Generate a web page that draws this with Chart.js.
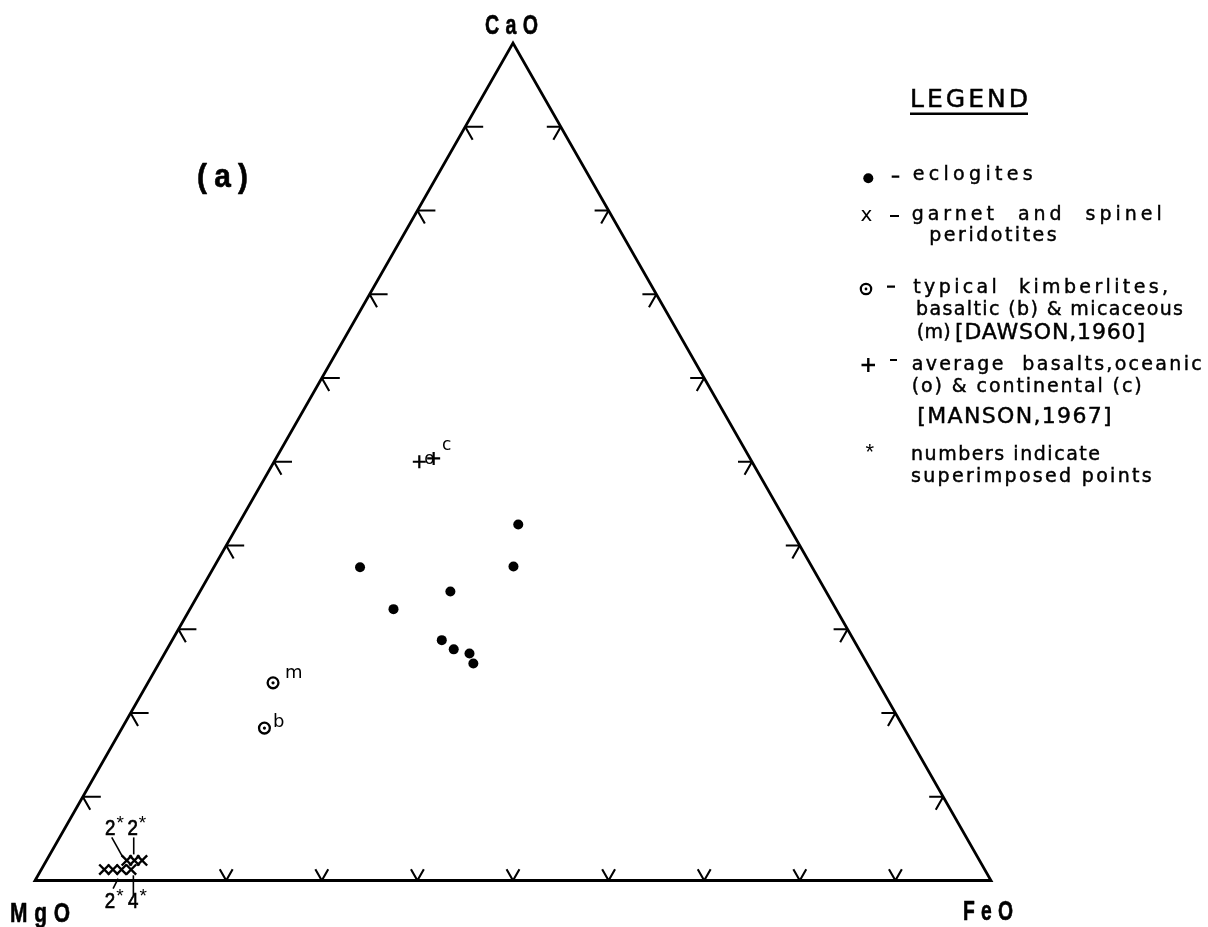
<!DOCTYPE html>
<html>
<head>
<meta charset="utf-8">
<title>CaO – MgO – FeO</title>
<script src="https://cdn.jsdelivr.net/npm/chart.js@4.4.1/dist/chart.umd.min.js"></script>
<style>
  html, body { margin: 0; padding: 0; background: #fff; }
  #wrap { width: 1208px; height: 927px; position: relative; }
</style>
</head>
<body>
<div id="wrap"><canvas id="chart" width="1208" height="927"></canvas></div>
<script>
// ---- Compositions, wt % (CaO + MgO + FeO = 100) ----
const eclogiteCaO = [42.5, 37.4, 37.5, 34.5, 32.4, 28.7, 27.6, 27.1, 25.9];
const eclogiteMgO = [28.2, 47.3, 31.2, 39.3, 46.3, 43.1, 42.4, 41.0, 41.2];
const eclogiteFeO = [29.3, 15.3, 31.3, 26.2, 21.3, 28.2, 30.0, 31.9, 32.9];

// garnet and spinel peridotites; stack = number of superimposed analyses
const peridotiteCaO = [2.4, 2.4, 2.4, 1.3, 1.3, 1.3, 1.3];
const peridotiteMgO = [89.2, 88.4, 87.6, 92.1, 91.2, 90.3, 89.3];
const peridotiteFeO = [8.4, 9.2, 10.0, 6.6, 7.5, 8.4, 9.4];
const peridotiteStack = [2, 2, 1, 1, 1, 2, 4];

// typical kimberlites (Dawson, 1960)
const kimberliteTags = ['b', 'm'];
const kimberliteCaO = [18.2, 23.6];
const kimberliteMgO = [66.9, 63.3];
const kimberliteFeO = [14.9, 13.1];

// average basalts (Manson, 1967)
const basaltTags = ['o', 'c'];
const basaltCaO = [50.0, 50.4];
const basaltMgO = [34.8, 33.1];
const basaltFeO = [15.2, 16.5];

// ternary grid ticks, % along each side
const sideTicks = [10, 20, 30, 40, 50, 60, 70, 80, 90];
const baseTicks = [20, 30, 40, 50, 60, 70, 80, 90];

// ---- ternary -> cartesian (x runs MgO->FeO, y is CaO height) ----
function toXY(cao, mgo, feo) {
  const s = cao + mgo + feo;
  const c = cao / s * 100, f = feo / s * 100;
  return { x: f + c / 2, y: c };
}
const series = (ca, mg, fe) => ca.map((c, i) => toXY(c, mg[i], fe[i]));

const FONT = '"Liberation Sans", Arial, Helvetica, sans-serif';
const LFONT = '"DejaVu Sans", "Liberation Sans", sans-serif';

// text stretched with letter spacing to run over a given width
function spreadText(ctx, text, left, baseline, width, font, weight) {
  ctx.save();
  ctx.font = font;
  ctx.letterSpacing = '0px';
  const w0 = ctx.measureText(text).width;
  const gap = text.length > 1 ? (width - w0) / (text.length - 1) : 0;
  ctx.letterSpacing = gap + 'px';
  ctx.textAlign = 'left';
  ctx.textBaseline = 'alphabetic';
  ctx.fillText(text, left, baseline);
  if (weight) { ctx.lineWidth = weight; ctx.strokeText(text, left, baseline); }
  ctx.restore();
}
// condensed heavy text: fixed spacing, squeezed horizontally into a width
function squeezeText(ctx, text, left, baseline, width, font, gap, weight) {
  ctx.save();
  ctx.font = font;
  ctx.letterSpacing = '0px';
  const w = ctx.measureText(text).width + gap * (text.length - 1);
  ctx.letterSpacing = gap + 'px';
  ctx.translate(left, baseline);
  ctx.scale(width / w, 1);
  ctx.textAlign = 'left';
  ctx.textBaseline = 'alphabetic';
  ctx.fillText(text, 0, 0);
  if (weight) { ctx.lineWidth = weight; ctx.lineJoin = 'round'; ctx.strokeText(text, 0, 0); }
  ctx.restore();
}

// label / leader placement for superimposed peridotite points (pixel offsets from the point)
const stackNotes = {
  0: { label: [-21.7, -25], leader: [[-15, -23], [-4.4, -4]] },
  1: { label: [-7, -25], leader: [[-0.7, -23], [-0.7, -6]] },
  5: { label: [-16.7, 38.7], leader: [[-8.4, 19], [-3.4, 9]] },
  6: { label: [-3, 38.7], leader: [[2.3, 5.7], [2.3, 25.7]] }
};
const kimberliteTagOffset = { b: [8.5, -1.5], m: [12, -4.7] };
const basaltTagOffset = { o: [5, 2.5], c: [8.4, -8.3] };

const ternaryDecor = {
  id: 'ternaryDecor',
  afterDatasetsDraw(chart) {
    const ctx = chart.ctx;
    const sx = chart.scales.x, sy = chart.scales.y;
    const px = (cao, mgo, feo) => {
      const p = toXY(cao, mgo, feo);
      return { x: sx.getPixelForValue(p.x), y: sy.getPixelForValue(p.y) };
    };
    const A = px(100, 0, 0), M = px(0, 100, 0), F = px(0, 0, 100);
    const unit = (a, b) => {
      const dx = b.x - a.x, dy = b.y - a.y, l = Math.hypot(dx, dy);
      return { x: dx / l, y: dy / l };
    };
    ctx.save();
    ctx.strokeStyle = '#000';
    ctx.fillStyle = '#000';
    ctx.lineWidth = 2.1;
    ctx.lineCap = 'butt';

    // grid ticks: two short arms along the ternary grid directions
    const arm = (p, d, len) => { ctx.moveTo(p.x, p.y); ctx.lineTo(p.x + d.x * len, p.y + d.y * len); };
    ctx.beginPath();
    sideTicks.forEach(v => { const p = px(v, 100 - v, 0); arm(p, unit(M, F), 18); arm(p, unit(A, F), 15); });
    sideTicks.forEach(v => { const p = px(v, 0, 100 - v); arm(p, unit(F, M), 14); arm(p, unit(A, M), 15); });
    baseTicks.forEach(v => { const p = px(0, 100 - v, v); arm(p, unit(M, A), 13); arm(p, unit(F, A), 13); });
    ctx.stroke();

    // apex labels
    const bold = sz => 'bold ' + sz + 'px ' + FONT;
    squeezeText(ctx, 'CaO', 485, 33.5, 53, bold(28), 9, 0.6);
    squeezeText(ctx, 'MgO', 10, 921.5, 60, bold(28), 9, 0.6);
    squeezeText(ctx, 'FeO', 963, 920, 50, bold(28), 9, 0.6);
    squeezeText(ctx, '(a)', 197, 187, 51, bold(33), 8, 0.6);

    // superimposed-point counts with leaders
    const perMeta = chart.getDatasetMeta(2).data;
    ctx.lineWidth = 1.6;
    Object.keys(stackNotes).forEach(k => {
      const i = +k, pt = perMeta[i], n = stackNotes[k];
      ctx.beginPath();
      ctx.moveTo(pt.x + n.leader[0][0], pt.y + n.leader[0][1]);
      ctx.lineTo(pt.x + n.leader[1][0], pt.y + n.leader[1][1]);
      ctx.stroke();
      const lx = pt.x + n.label[0], ly = pt.y + n.label[1];
      const digit = String(peridotiteStack[i]);
      ctx.save();
      ctx.font = '22px ' + FONT;
      const dw = ctx.measureText(digit).width * 0.85;
      ctx.translate(lx, ly);
      ctx.scale(0.85, 1);
      ctx.fillText(digit, 0, 0);
      ctx.lineWidth = 0.7;
      ctx.strokeText(digit, 0, 0);
      ctx.restore();
      ctx.font = '19px ' + FONT;
      ctx.fillText('*', lx + dw + 1, ly - 6);
    });

    // kimberlite and basalt tags
    const kMeta = chart.getDatasetMeta(3).data;
    ctx.font = '18px ' + LFONT;
    kimberliteTags.forEach((t, i) => {
      const o = kimberliteTagOffset[t];
      ctx.fillText(t, kMeta[i].x + o[0], kMeta[i].y + o[1]);
    });
    const bMeta = chart.getDatasetMeta(5).data;
    ctx.font = '17px ' + LFONT;
    basaltTags.forEach((t, i) => {
      const o = basaltTagOffset[t];
      ctx.fillText(t, bMeta[i].x + o[0], bMeta[i].y + o[1]);
    });

    // ---- legend ----
    spreadText(ctx, 'LEGEND', 910, 107, 118, '25px ' + LFONT, 0.5);
    ctx.fillRect(910, 112.5, 118, 2.5);

    ctx.lineWidth = 2.2;
    ctx.beginPath();
    [[891.7, 899.3, 176.7], [890, 899, 216], [887, 895, 286.7], [890, 897, 360]].forEach(d => {
      ctx.moveTo(d[0], d[2]); ctx.lineTo(d[1], d[2]);
    });
    ctx.stroke();

    // symbols
    ctx.beginPath(); ctx.arc(868.3, 178.3, 5, 0, Math.PI * 2); ctx.fill();
    ctx.font = '20px ' + LFONT; ctx.fillText('x', 860.5, 220.5);
    ctx.beginPath(); ctx.arc(866, 289, 5.2, 0, Math.PI * 2); ctx.lineWidth = 2.2; ctx.stroke();
    ctx.beginPath(); ctx.arc(866, 289, 1.4, 0, Math.PI * 2); ctx.fill();
    ctx.lineWidth = 2.4;
    ctx.beginPath(); ctx.moveTo(861.5, 365); ctx.lineTo(875, 365); ctx.moveTo(868.3, 358); ctx.lineTo(868.3, 372); ctx.stroke();
    ctx.font = '22px ' + FONT; ctx.fillText('*', 865.5, 459);

    const lg = '19px ' + LFONT;
    const caps = '22px ' + LFONT;
    const wt = 0.45;
    spreadText(ctx, 'eclogites', 912.7, 180, 120, lg, wt);
    spreadText(ctx, 'garnet  and  spinel', 911.7, 220, 250, lg, wt);
    spreadText(ctx, 'peridotites', 929.3, 240.5, 127.4, lg, wt);
    spreadText(ctx, 'typical  kimberlites,', 913.3, 293.3, 254.7, lg, wt);
    spreadText(ctx, 'basaltic (b) & micaceous', 916, 315, 267, lg, wt);
    spreadText(ctx, '(m)', 916.7, 338, 34, lg, wt);
    spreadText(ctx, '[DAWSON,1960]', 955, 339, 190, caps, wt);
    spreadText(ctx, 'average  basalts,oceanic', 911.7, 370, 290, lg, wt);
    spreadText(ctx, '(o) & continental (c)', 911.7, 391.7, 230, lg, wt);
    spreadText(ctx, '[MANSON,1967]', 917.3, 423.3, 194.4, caps, wt);
    spreadText(ctx, 'numbers indicate', 911, 460, 189, lg, wt);
    spreadText(ctx, 'superimposed points', 911, 481.7, 240.7, lg, wt);
    ctx.restore();
  }
};

const frame = [toXY(0, 100, 0), toXY(0, 0, 100), toXY(100, 0, 0), toXY(0, 100, 0), toXY(0, 0, 100)];

new Chart(document.getElementById('chart'), {
  type: 'scatter',
  data: {
    datasets: [
      { label: 'frame', type: 'line', data: frame, showLine: true, borderColor: '#000', borderWidth: 2.8,
        borderJoinStyle: 'miter', pointRadius: 0, fill: false, tension: 0, clip: false },
      { label: 'eclogites', data: series(eclogiteCaO, eclogiteMgO, eclogiteFeO), pointStyle: 'circle',
        pointRadius: 5, pointBackgroundColor: '#000', pointBorderColor: '#000', pointBorderWidth: 0, clip: false },
      { label: 'garnet and spinel peridotites', data: series(peridotiteCaO, peridotiteMgO, peridotiteFeO),
        pointStyle: 'crossRot', pointRadius: 7.2, pointBorderColor: '#000', pointBorderWidth: 2.4, clip: false },
      { label: 'typical kimberlites', data: series(kimberliteCaO, kimberliteMgO, kimberliteFeO), pointStyle: 'circle',
        pointRadius: 5.4, pointBackgroundColor: 'rgba(255,255,255,0)', pointBorderColor: '#000', pointBorderWidth: 2.3, clip: false },
      { label: 'kimberlite centres', data: series(kimberliteCaO, kimberliteMgO, kimberliteFeO), pointStyle: 'circle',
        pointRadius: 1.6, pointBackgroundColor: '#000', pointBorderColor: '#000', pointBorderWidth: 0, clip: false },
      { label: 'average basalts', data: series(basaltCaO, basaltMgO, basaltFeO), pointStyle: 'cross',
        pointRadius: 6.5, pointBorderColor: '#000', pointBorderWidth: 2.2, clip: false }
    ]
  },
  options: {
    responsive: false,
    animation: false,
    devicePixelRatio: 1,
    layout: { padding: { left: 35, right: 217, top: 43, bottom: 46.5 } },
    scales: {
      x: { type: 'linear', min: 0, max: 100, display: false },
      y: { type: 'linear', min: 0, max: 100, display: false }
    },
    plugins: { legend: { display: false }, tooltip: { enabled: false } },
    events: []
  },
  plugins: [ternaryDecor]
});
</script>
</body>
</html>
